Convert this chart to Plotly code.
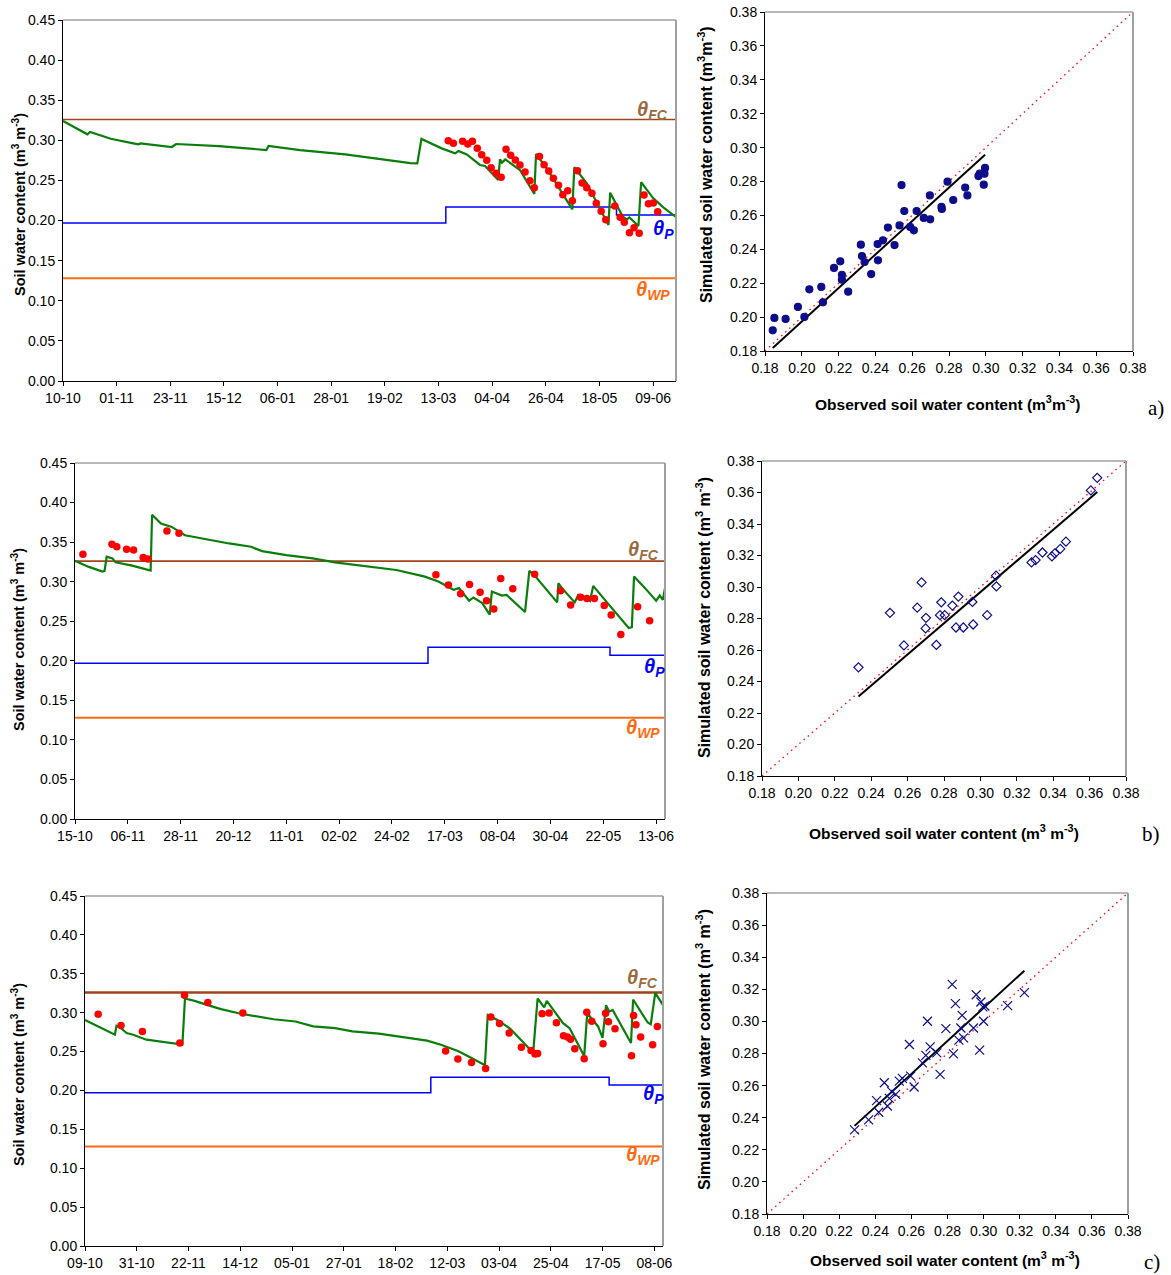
import pandas as pd
import plotly.graph_objects as go

# ---------------- data ----------------
THETA_FC = 0.326
THETA_WP = 0.128

START_A, END_A = "2005-10-10", 251.4
START_B, END_B = "2007-10-15", 245.7
START_C, END_C = "2008-10-09", 245.7

THP_A_DAY = [0, 157, 227, 251.4]
THP_B_DAY = [0, 147, 222.8, 245.7]
THP_C_DAY = [0, 147, 222.8, 245.7]
THP_VAL = [0.197, 0.217, 0.207, 0.207]

SIM_A_DAY = [0, 4.8, 10, 11.1, 19.6, 28.8, 31, 31.8, 44.6, 46.4, 64, 83.4, 84.3, 97.2, 115.7, 142.5, 145.3, 147.0,
             155.3, 160.8, 162.2, 165.6, 171, 173.1, 178.5, 179.2, 180, 181.4, 187.4, 193.3, 194, 198.4, 208.9,
             209.7, 214.8, 223.7, 224.4, 229.6, 231.2, 232.3, 236, 237.1, 242.1, 246.2, 251.2]
SIM_A_VAL = [0.324, 0.316, 0.3075, 0.3104, 0.302, 0.2963, 0.295, 0.2963, 0.2917, 0.2954, 0.2929, 0.2879, 0.2929,
             0.2879, 0.2825, 0.2715, 0.2713, 0.3017, 0.290, 0.2838, 0.2867, 0.2825, 0.2693, 0.268, 0.2506, 0.2763,
             0.2722, 0.2763, 0.263, 0.2331, 0.283, 0.2651, 0.214, 0.2664, 0.2464, 0.1945, 0.2348, 0.2048, 0.2015,
             0.204, 0.1932, 0.2477, 0.2277, 0.2165, 0.2048]
OBS_A_DAY = [158.0, 160.1, 163.9, 166.0, 167.9, 169.9, 171.7, 173.8, 175.6, 177.6, 179.7, 181.7, 183.6, 185.5,
             187.4, 189.5, 191.5, 193.3, 195.4, 197.3, 199.2, 201.1, 203.2, 205.0, 207.0, 208.9, 211.0, 212.9,
             214.8, 216.9, 218.7, 220.7, 222.6, 226.3, 228.5, 230.2, 232.3, 234.2, 236.3, 238.3, 240.1, 242.1, 243.9]
OBS_A_VAL = [0.2996, 0.2963, 0.2988, 0.2954, 0.2988, 0.2900, 0.2821, 0.2751, 0.2659, 0.2589, 0.2539, 0.2888,
             0.2813, 0.2755, 0.2693, 0.2605, 0.2497, 0.2410, 0.2797, 0.2697, 0.2618, 0.2526, 0.2439, 0.2323,
             0.2373, 0.2248, 0.2622, 0.2468, 0.2410, 0.2339, 0.2215, 0.2115, 0.2011, 0.2181, 0.2040, 0.1978,
             0.1849, 0.1911, 0.1841, 0.2319, 0.2211, 0.2219, 0.2111]

SIM_B_DAY = [0, 5.5, 11.4, 12.3, 13.2, 15.6, 16.9, 23.8, 31.5, 32.1, 35.8, 40.3, 45.8, 55, 64.2, 73.3, 77.9, 88,
             99, 108.2, 119.2, 133.8, 145.7, 151.3, 157.7, 159.9, 164.1, 165.9, 169.6, 172.7, 173.6, 175.1, 177.8,
             179.7, 187.4, 189.2, 191, 200.8, 201.3, 202.8, 208.1, 209.6, 211.2, 214.5, 215.8, 221.8, 230.6,
             231.9, 232.8, 237.4, 242, 243.5, 244.8, 245.7]
SIM_B_VAL = [0.3265, 0.319, 0.3127, 0.3135, 0.3315, 0.3294, 0.3244, 0.3202, 0.3139, 0.3847, 0.3734, 0.3692,
             0.3587, 0.3533, 0.3483, 0.3441, 0.3386, 0.3336, 0.3294, 0.3244, 0.3202, 0.3148, 0.3064, 0.3001,
             0.2897, 0.2918, 0.2758, 0.28, 0.2729, 0.2583, 0.2876, 0.2855, 0.2825, 0.2834, 0.2616, 0.3135,
             0.3093, 0.2738, 0.298, 0.2918, 0.2738, 0.2834, 0.2825, 0.2758, 0.2947, 0.2729, 0.2415, 0.2424,
             0.3064, 0.2918, 0.2758, 0.2825, 0.2771, 0.2918]
OBS_B_DAY = [3.3, 15.4, 17.4, 21.5, 24.4, 28.4, 30.4, 38.3, 43.3, 150.3, 155.5, 160.6, 164.3, 168.7, 171.4,
             174.4, 177.3, 182.3, 191.4, 202.2, 206.4, 210.5, 213.2, 216.3, 220.4, 223.3, 227.3, 234.3, 239.3]
OBS_B_VAL = [0.3345, 0.3474, 0.3441, 0.3411, 0.3399, 0.3307, 0.3286, 0.3642, 0.3612, 0.3089, 0.2959, 0.2846,
             0.2964, 0.2867, 0.2758, 0.2654, 0.3039, 0.2909, 0.3093, 0.2884, 0.2704, 0.2804, 0.2788, 0.2788,
             0.27, 0.2578, 0.2332, 0.2683, 0.2507]

SIM_C_DAY = [0, 4.7, 9.3, 12.7, 13.4, 14.9, 17.7, 20.5, 26.1, 31.7, 35.4, 41.4, 42.5, 46.6, 52.2, 57.8, 65.3,
             72.7, 80.2, 89.5, 97, 106.3, 113.7, 124.9, 132.4, 145.4, 151, 158.5, 164.1, 170, 171.2, 175.3,
             180.8, 187.4, 190.5, 192.4, 195.2, 196.3, 203.2, 206, 212.2, 213.5, 218.1, 220, 221.5, 222.8,
             224.3, 232.1, 233, 239.2, 240.5, 242.4, 245.7]
SIM_C_VAL = [0.2907, 0.2835, 0.2759, 0.2717, 0.2831, 0.281, 0.2738, 0.2717, 0.2653, 0.2632, 0.262, 0.259,
             0.3182, 0.3152, 0.3097, 0.3046, 0.2992, 0.2949, 0.2915, 0.2886, 0.2823, 0.2801, 0.2759, 0.273,
             0.2696, 0.2641, 0.259, 0.2506, 0.2421, 0.2324, 0.297, 0.2907, 0.2793, 0.2582, 0.2484, 0.3182,
             0.3068, 0.3152, 0.2865, 0.2801, 0.2442, 0.2992, 0.2823, 0.2675, 0.3097, 0.3013, 0.3034, 0.2611,
             0.3169, 0.2873, 0.2852, 0.3254, 0.3097]
OBS_C_DAY = [5.6, 15.3, 24.4, 40.3, 42.3, 52.2, 67.1, 153.3, 158.5, 164.3, 170.3, 172.5, 176.2, 180.3, 185.5,
             189.6, 191.3, 192.4, 194.3, 197.3, 200.4, 203.4, 205.1, 206.4, 208.2, 212.2, 213.3, 215.4, 220.2,
             221.3, 222.5, 225.3, 232.3, 233.2, 234.2, 236.2, 241.3, 243.3]
OBS_C_VAL = [0.2979, 0.2835, 0.2759, 0.2611, 0.3224, 0.3131, 0.2996, 0.2506, 0.2404, 0.2358, 0.2282, 0.2945,
             0.2861, 0.2738, 0.2556, 0.2514, 0.2468, 0.2476, 0.2987, 0.2996, 0.2869, 0.2704, 0.2687, 0.2658,
             0.2535, 0.2408, 0.3004, 0.289, 0.2599, 0.2992, 0.2882, 0.2793, 0.2446, 0.2962, 0.2844, 0.2687,
             0.2586, 0.2823]

SC_A_OBS = [0.1842, 0.1851, 0.1912, 0.1979, 0.2014, 0.2041, 0.2106, 0.2115, 0.2175, 0.2209, 0.2218, 0.2218,
            0.2252, 0.2321, 0.2327, 0.2341, 0.2377, 0.2412, 0.2414, 0.2441, 0.2468, 0.2504, 0.2531, 0.2542,
            0.2557, 0.2589, 0.2609, 0.2624, 0.2663, 0.2696, 0.2698, 0.2759, 0.2761, 0.2792, 0.2823, 0.2888,
            0.29, 0.296, 0.2967, 0.2989, 0.2993, 0.2996]
SC_A_SIM = [0.1922, 0.1995, 0.1989, 0.206, 0.2001, 0.2164, 0.2178, 0.2087, 0.229, 0.2329, 0.225, 0.2221,
            0.215, 0.2427, 0.236, 0.2325, 0.2254, 0.2431, 0.2335, 0.2453, 0.2528, 0.2425, 0.2541, 0.2779,
            0.2626, 0.2532, 0.2512, 0.2626, 0.2585, 0.2718, 0.2577, 0.265, 0.2638, 0.2799, 0.2691, 0.2764,
            0.2718, 0.2832, 0.2846, 0.2781, 0.2846, 0.288]
SC_B_OBS = [0.233, 0.2503, 0.258, 0.2653, 0.2677, 0.2699, 0.2701, 0.2758, 0.2778, 0.2785, 0.2804, 0.2846,
            0.2866, 0.2879, 0.2906, 0.2956, 0.296, 0.3037, 0.3086, 0.3088, 0.3281, 0.3303, 0.3341, 0.3393,
            0.3409, 0.3439, 0.347, 0.3607, 0.3642]
SC_B_SIM = [0.249, 0.2836, 0.2629, 0.2869, 0.3029, 0.2737, 0.2804, 0.2632, 0.2821, 0.2903, 0.2821, 0.2882,
            0.2743, 0.2939, 0.2743, 0.2905, 0.2762, 0.2821, 0.3072, 0.3004, 0.3156, 0.3171, 0.3219, 0.3194,
            0.3213, 0.3242, 0.3288, 0.3613, 0.3693]
SC_C_OBS = [0.2285, 0.2363, 0.2407, 0.2419, 0.245, 0.2467, 0.2478, 0.2491, 0.2513, 0.2533, 0.255, 0.2589,
            0.2596, 0.2615, 0.2661, 0.268, 0.2689, 0.2704, 0.2741, 0.2759, 0.2791, 0.2826, 0.2833, 0.2844,
            0.2863, 0.2874, 0.2881, 0.2889, 0.2944, 0.2959, 0.2978, 0.2985, 0.2996, 0.3, 0.3007, 0.3133, 0.3226]
SC_C_SIM = [0.2324, 0.2386, 0.2506, 0.2434, 0.2618, 0.2473, 0.252, 0.2562, 0.2545, 0.2628, 0.2645, 0.2856,
            0.2659, 0.2591, 0.2742, 0.2788, 0.3001, 0.2841, 0.2804, 0.267, 0.2955, 0.3231, 0.2798, 0.3111,
            0.2883, 0.2959, 0.3038, 0.2897, 0.2959, 0.3166, 0.2821, 0.3121, 0.309, 0.3001, 0.3096, 0.3098, 0.3179]

# regression (slope, intercept)
REG_A = (0.988, -0.0002)
REG_B = (0.9886, 0.0002)
REG_C = (1.0276, 0.0001)

PANEL_LETTERS = ["a)", "b)", "c)"]

# ---------------- styling ----------------
FONT = "Liberation Sans, Arial, sans-serif"
GREEN = "#0a7d0a"
RED = "#ff0000"
NAVY = "#0d0d8a"
FC_COL = "#a0431c"
FC_TXT = "#9c6b3c"
WP_COL = "#ff6a10"
P_COL = "#0000ff"
BORDER = "#a0a0a0"

fig = go.Figure()


def dates(start, days):
    return pd.Timestamp(start) + pd.to_timedelta(pd.Series(days, dtype=float), unit="D")


ts_panels = [
    dict(start=START_A, end=END_A, thp=THP_A_DAY, sd=SIM_A_DAY, sv=SIM_A_VAL, od=OBS_A_DAY, ov=OBS_A_VAL,
         xa="x", ya="y", dom_x=[63 / 1171, 676 / 1171], dom_y=[1 - 381 / 1275, 1 - 20 / 1275], fcw=1.6),
    dict(start=START_B, end=END_B, thp=THP_B_DAY, sd=SIM_B_DAY, sv=SIM_B_VAL, od=OBS_B_DAY, ov=OBS_B_VAL,
         xa="x3", ya="y3", dom_x=[75 / 1171, 665 / 1171], dom_y=[1 - 819 / 1275, 1 - 463 / 1275], fcw=1.6),
    dict(start=START_C, end=END_C, thp=THP_C_DAY, sd=SIM_C_DAY, sv=SIM_C_VAL, od=OBS_C_DAY, ov=OBS_C_VAL,
         xa="x5", ya="y5", dom_x=[85 / 1171, 663 / 1171], dom_y=[1 - 1246 / 1275, 1 - 896 / 1275], fcw=2.6),
]

sc_panels = [
    dict(o=SC_A_OBS, s=SC_A_SIM, reg=REG_A, sym="circle", size=7, xa="x2", ya="y2",
         dom_x=[765 / 1171, 1133 / 1171], dom_y=[1 - 351 / 1275, 1 - 12 / 1275]),
    dict(o=SC_B_OBS, s=SC_B_SIM, reg=REG_B, sym="diamond-open", size=7, xa="x4", ya="y4",
         dom_x=[762 / 1171, 1126 / 1171], dom_y=[1 - 776 / 1275, 1 - 461 / 1275]),
    dict(o=SC_C_OBS, s=SC_C_SIM, reg=REG_C, sym="x-thin-open", size=9, xa="x6", ya="y6",
         dom_x=[767 / 1171, 1128 / 1171], dom_y=[1 - 1214 / 1275, 1 - 893 / 1275]),
]

axis_common = dict(showline=True, linecolor="black", linewidth=1, ticks="outside", ticklen=4,
                   tickcolor="black", showgrid=False, zeroline=False, automargin=False,
                   tickfont=dict(family=FONT, size=14, color="black"))

layout_axes = {}
shapes = []

for p in ts_panels:
    x0 = pd.Timestamp(p["start"])
    x1 = x0 + pd.Timedelta(days=p["end"])
    kw = dict(xaxis=p["xa"], yaxis=p["ya"], showlegend=False, hoverinfo="skip")
    fig.add_trace(go.Scatter(x=[x0, x1], y=[THETA_WP, THETA_WP], mode="lines",
                             line=dict(color=WP_COL, width=2), **kw))
    fig.add_trace(go.Scatter(x=[x0, x1], y=[THETA_FC, THETA_FC], mode="lines",
                             line=dict(color=FC_COL, width=p["fcw"]), **kw))
    fig.add_trace(go.Scatter(x=dates(p["start"], p["thp"]), y=THP_VAL, mode="lines",
                             line=dict(color=P_COL, width=1.5, shape="hv"), **kw))
    fig.add_trace(go.Scatter(x=dates(p["start"], p["sd"]), y=p["sv"], mode="lines",
                             line=dict(color=GREEN, width=2.2), **kw))
    fig.add_trace(go.Scatter(x=dates(p["start"], p["od"]), y=p["ov"], mode="markers",
                             marker=dict(color=RED, size=7.5, line=dict(width=0)), **kw))
    xkey = "xaxis" + p["xa"][1:]
    ykey = "yaxis" + p["ya"][1:]
    layout_axes[xkey] = dict(axis_common, type="date", domain=p["dom_x"], anchor=p["ya"],
                             range=[x0, x1], tick0=x0, dtick=22 * 86400000, tickformat="%d-%m")
    layout_axes[ykey] = dict(axis_common, domain=p["dom_y"], anchor=p["xa"], range=[0, 0.45],
                             dtick=0.05, tickformat=".2f")

for p in sc_panels:
    kw = dict(xaxis=p["xa"], yaxis=p["ya"], showlegend=False, hoverinfo="skip")
    fig.add_trace(go.Scatter(x=[0.18, 0.38], y=[0.18, 0.38], mode="lines",
                             line=dict(color=RED, width=1.3, dash="1.5px,4px"), **kw))
    slope, icpt = p["reg"]
    lo, hi = min(p["o"]), max(p["o"])
    fig.add_trace(go.Scatter(x=[lo, hi], y=[slope * lo + icpt, slope * hi + icpt], mode="lines",
                             line=dict(color="black", width=2), **kw))
    mk = dict(symbol=p["sym"], size=p["size"], color=NAVY, line=dict(color=NAVY, width=1.2))
    fig.add_trace(go.Scatter(x=p["o"], y=p["s"], mode="markers", marker=mk, cliponaxis=False, **kw))
    xkey = "xaxis" + p["xa"][1:]
    ykey = "yaxis" + p["ya"][1:]
    layout_axes[xkey] = dict(axis_common, domain=p["dom_x"], anchor=p["ya"], range=[0.18, 0.38],
                             dtick=0.02, tick0=0.18, tickformat=".2f")
    layout_axes[ykey] = dict(axis_common, domain=p["dom_y"], anchor=p["xa"], range=[0.18, 0.38],
                             dtick=0.02, tick0=0.18, tickformat=".2f")

# gray top/right frame edges
for xa, ya in [("x", "y"), ("x2", "y2"), ("x3", "y3"), ("x4", "y4"), ("x5", "y5"), ("x6", "y6")]:
    xr, yr = xa + " domain", ya + " domain"
    shapes.append(dict(type="line", xref=xr, yref=yr, x0=0, x1=1, y0=1, y1=1,
                       line=dict(color=BORDER, width=1.5)))
    shapes.append(dict(type="line", xref=xr, yref=yr, x0=1, x1=1, y0=0, y1=1,
                       line=dict(color=BORDER, width=2)))

annotations = []


def theta(sub):
    return f"<b><i>θ</i></b><sub><b><i>{sub}</i></b></sub>"


theta_pos = [  # (x domain for FC/WP, x domain for P, yFC, yP, yWP)
    ("x", "y", 0.962, 0.979, 0.337, 0.189, 0.113),
    ("x3", "y3", 0.963, 0.983, 0.340, 0.191, 0.115),
    ("x5", "y5", 0.965, 0.984, 0.344, 0.195, 0.117),
]
for xa, ya, xf, xp, yfc, yp, ywp in theta_pos:
    for txt, col, xx, yy in [("FC", FC_TXT, xf, yfc), ("P", P_COL, xp, yp), ("WP", WP_COL, xf, ywp)]:
        annotations.append(dict(xref=xa + " domain", yref=ya, x=xx, y=yy, text=theta(txt),
                                showarrow=False, font=dict(family=FONT, size=20, color=col),
                                xanchor="center", yanchor="middle"))

ts_ytitle = "<b>Soil water content (m<sup>3</sup> m<sup>-3</sup>)</b>"
for xx, yy in [(19, 205), (18, 640), (18, 1075)]:
    annotations.append(dict(xref="paper", yref="paper", x=xx / 1171, y=1 - yy / 1275, text=ts_ytitle,
                            textangle=-90, showarrow=False, font=dict(family=FONT, size=14.5, color="black"),
                            xanchor="center", yanchor="middle"))

sc_ytitles = ["<b>Simulated soil water content (m<sup>3</sup>m<sup>-3</sup>)</b>",
              "<b>Simulated soil water content (m<sup>3</sup> m<sup>-3</sup>)</b>",
              "<b>Simulated soil water content (m<sup>3</sup> m<sup>-3</sup>)</b>"]
for t, (xx, yy) in zip(sc_ytitles, [(705, 165), (703, 618), (703, 1050)]):
    annotations.append(dict(xref="paper", yref="paper", x=xx / 1171, y=1 - yy / 1275, text=t,
                            textangle=-90, showarrow=False, font=dict(family=FONT, size=16, color="black"),
                            xanchor="center", yanchor="middle"))

sc_xtitles = ["<b>Observed soil water content (m<sup>3</sup>m<sup>-3</sup>)</b>",
              "<b>Observed soil water content (m<sup>3</sup> m<sup>-3</sup>)</b>",
              "<b>Observed soil water content (m<sup>3</sup> m<sup>-3</sup>)</b>"]
for t, (xx, yy) in zip(sc_xtitles, [(948, 403), (944, 832), (945, 1259)]):
    annotations.append(dict(xref="paper", yref="paper", x=xx / 1171, y=1 - yy / 1275, text=t,
                            showarrow=False, font=dict(family=FONT, size=15.5, color="black"),
                            xanchor="center", yanchor="middle"))

for t, (xx, yy) in zip(PANEL_LETTERS, [(1156, 408), (1151, 834), (1152, 1262)]):
    annotations.append(dict(xref="paper", yref="paper", x=xx / 1171, y=1 - yy / 1275, text=t,
                            showarrow=False, font=dict(family="Liberation Serif, Times New Roman, serif",
                                                       size=21, color="black"),
                            xanchor="center", yanchor="middle"))

fig.update_layout(width=1171, height=1275, margin=dict(l=0, r=0, t=0, b=0),
                  paper_bgcolor="white", plot_bgcolor="white", showlegend=False,
                  annotations=annotations, shapes=shapes, **layout_axes)

fig.write_html("out.html", config={"displayModeBar": False},
               post_script="document.body.style.margin='0';document.body.style.overflow='hidden';")
